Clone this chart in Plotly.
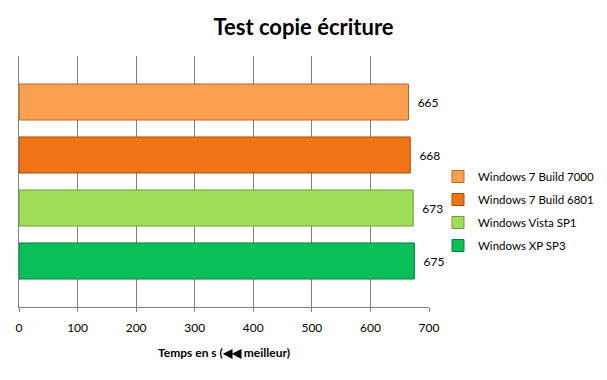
import plotly.graph_objects as go

series = ["Windows 7 Build 7000", "Windows 7 Build 6801", "Windows Vista SP1", "Windows XP SP3"]
values = [665, 668, 673, 675]
positions = [3, 2, 1, 0]
colors = ["#FBA04E", "#F07315", "#9FDE58", "#0ABE58"]
edges = ["#B8682A", "#A94C0C", "#6E9E3A", "#07803C"]
xticks = [0, 100, 200, 300, 400, 500, 600, 700]

fig = go.Figure()
for s, v, p, c, e in zip(series, values, positions, colors, edges):
    fig.add_trace(go.Bar(
        name=s, x=[v], y=[p], orientation="h", width=0.68, legendgroup=s,
        marker=dict(color=c, line=dict(color=e, width=1)),
        text=["  " + str(v)], textposition="outside", cliponaxis=False,
        textfont=dict(family="Lato, sans-serif", size=12, color="#000000"),
    ))

fig.update_layout(
    width=607, height=380,
    margin=dict(l=19, r=178, t=56, b=73, autoexpand=False),
    paper_bgcolor="white", plot_bgcolor="white",
    barmode="overlay",
    title=dict(text="<b>Test copie écriture</b>", x=0.5, xref="container", xanchor="center",
               y=1 - 27 / 380, yref="container", yanchor="middle",
               font=dict(family="Lato, sans-serif", size=22, color="#000000")),
    font=dict(family="Lato, sans-serif", size=12, color="#000000"),
    xaxis=dict(range=[0, 700], tickvals=xticks, showgrid=True, gridcolor="#808080", gridwidth=1,
               showline=True, linecolor="#808080", ticks="outside", ticklen=4, tickcolor="#808080",
               tickfont=dict(size=12), zeroline=False, ticklabelstandoff=6,
               title=dict(text="<b>Temps en s (◀◀ meilleur)</b>", font=dict(size=12), standoff=14)),
    yaxis=dict(range=[-0.868, 3.868], showticklabels=False, showgrid=False, zeroline=False,
               showline=True, linecolor="#808080"),
    legend=dict(x=438 / 607, y=1 - 211 / 380, xref="container", yref="container",
                xanchor="left", yanchor="middle", font=dict(size=11.5),
                tracegroupgap=4, itemwidth=30, bgcolor="rgba(0,0,0,0)"),
    showlegend=True,
)
fig.write_html("out.html")
